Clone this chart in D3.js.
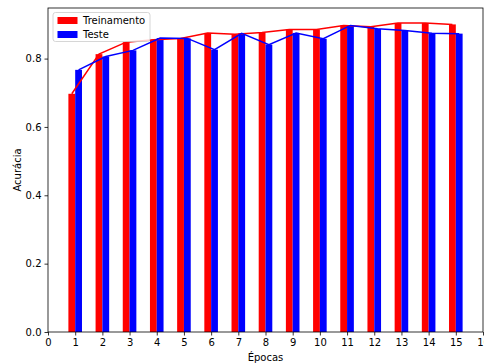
<!DOCTYPE html>
<html><head><meta charset="utf-8">
<script src="https://cdn.jsdelivr.net/npm/d3@7"></script>
<style>
html,body{margin:0;padding:0;background:#fff;}
svg{display:block;font-family:"DejaVu Sans",sans-serif;}
</style></head>
<body>
<script>
const epochs = [1,2,3,4,5,6,7,8,9,10,11,12,13,14,15];
const train = [0.697,0.813,0.848,0.855,0.859,0.875,0.871,0.876,0.885,0.885,0.897,0.893,0.904,0.904,0.900];
const test  = [0.767,0.806,0.824,0.860,0.859,0.826,0.874,0.841,0.875,0.858,0.897,0.887,0.882,0.874,0.873];
const xTicks = [0,1,2,3,4,5,6,7,8,9,10,11,12,13,14,15,16];
const yTicks = [0,0.2,0.4,0.6,0.8];
const seriesNames = ["Treinamento","Teste"];
const colors = ["#ff0000","#0000ff"];

const W=484,H=364;
const m={left:48,right:1,top:8,bottom:32};
const svg=d3.select("body").append("svg").attr("width",W).attr("height",H);
const x=d3.scaleLinear().domain([0,16]).range([m.left,W-m.right]);
const y=d3.scaleLinear().domain([0,0.948]).range([H-m.bottom,m.top]);
const bw=0.25;

const g=svg.append("g");
// bars
g.selectAll("rect.tr").data(epochs).join("rect")
  .attr("x",(d)=>x(d-bw)).attr("width",x(bw)-x(0))
  .attr("y",(d,i)=>y(train[i])).attr("height",(d,i)=>y(0)-y(train[i]))
  .attr("fill",colors[0]);
g.selectAll("rect.te").data(epochs).join("rect")
  .attr("x",(d)=>x(d)).attr("width",x(bw)-x(0))
  .attr("y",(d,i)=>y(test[i])).attr("height",(d,i)=>y(0)-y(test[i]))
  .attr("fill",colors[1]);
// lines
const lineTr=d3.line().x((d)=>x(d-bw/2)).y((d,i)=>y(train[i]));
const lineTe=d3.line().x((d)=>x(d+bw/2)).y((d,i)=>y(test[i]));
g.append("path").attr("d",lineTr(epochs)).attr("fill","none").attr("stroke",colors[0]).attr("stroke-width",1.5);
g.append("path").attr("d",lineTe(epochs)).attr("fill","none").attr("stroke",colors[1]).attr("stroke-width",1.5);

// frame
svg.append("rect").attr("x",m.left).attr("y",m.top).attr("width",W-m.right-m.left).attr("height",H-m.bottom-m.top)
  .attr("fill","none").attr("stroke","#000").attr("stroke-width",0.8);

// axes
const xa=svg.append("g").attr("transform",`translate(0,${H-m.bottom})`)
  .call(d3.axisBottom(x).tickValues(xTicks).tickFormat(d3.format("d")).tickSize(3.5).tickPadding(3));
const ya=svg.append("g").attr("transform",`translate(${m.left},0)`)
  .call(d3.axisLeft(y).tickValues(yTicks).tickFormat(d3.format(".1f")).tickSize(3.5).tickPadding(3));
[xa,ya].forEach(a=>{
  a.select(".domain").remove();
  a.selectAll("line").attr("stroke","#000").attr("stroke-width",0.8);
  a.selectAll("text").attr("font-size",10).attr("fill","#000").attr("font-family","DejaVu Sans");
});

// axis labels
svg.append("text").attr("x",(m.left+W-m.right)/2).attr("y",361).attr("text-anchor","middle")
  .attr("font-size",10).text("Épocas");
svg.append("text").attr("transform",`translate(21,${(m.top+H-m.bottom)/2}) rotate(-90)`).attr("text-anchor","middle")
  .attr("font-size",10).text("Acurácia");

// legend
const lg=svg.append("g");
lg.append("rect").attr("x",53).attr("y",12.5).attr("width",97).attr("height",29).attr("rx",2.5)
  .attr("fill","#fff").attr("fill-opacity",0.8).attr("stroke","#cccccc").attr("stroke-width",0.8);
seriesNames.forEach((n,i)=>{
  const yy=20.5+i*14;
  lg.append("rect").attr("x",57.5).attr("y",yy-3.5).attr("width",20).attr("height",7).attr("fill",colors[i]);
  lg.append("text").attr("x",83).attr("y",yy+3.6).attr("font-size",10).text(n);
});
</script>
</body></html>
